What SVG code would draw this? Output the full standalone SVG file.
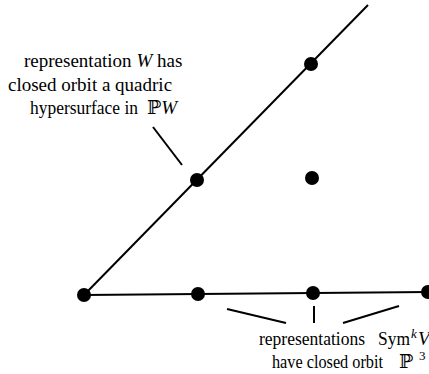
<svg xmlns="http://www.w3.org/2000/svg" width="429" height="374" viewBox="0 0 429 374">
<style>
.ln{stroke:#000;stroke-width:2;fill:none;stroke-linecap:butt}
.dot{fill:#000}
text{font-family:"Liberation Serif","DejaVu Serif",serif;font-size:19px;fill:#000}
.it{font-style:italic}
.sup{font-size:13px}
</style>
<rect width="429" height="374" fill="#fff"/>
<g id="connectors">
<line class="ln" x1="84" y1="295" x2="368" y2="5"/>
<line class="ln" x1="84" y1="295" x2="429" y2="292"/>
<line class="ln" x1="153" y1="127" x2="182" y2="165"/>
<line class="ln" x1="227" y1="309" x2="286" y2="323"/>
<line class="ln" x1="314" y1="306" x2="314" y2="323"/>
<line class="ln" x1="343" y1="323" x2="399" y2="306"/>
</g>
<g id="n1"><circle class="dot" cx="84" cy="295" r="7"/></g>
<g id="n2"><circle class="dot" cx="198" cy="294" r="7"/></g>
<g id="n3"><circle class="dot" cx="313" cy="293" r="7"/></g>
<g id="n4"><circle class="dot" cx="428" cy="292" r="7"/></g>
<g id="n5"><circle class="dot" cx="197" cy="180" r="7"/></g>
<g id="n6"><circle class="dot" cx="311" cy="64" r="7"/></g>
<g id="n7"><circle class="dot" cx="312" cy="178" r="7"/></g>
<g id="label-top">
<text x="24" y="67">representation <tspan class="it">W</tspan> has</text>
<text x="8" y="91">closed orbit a quadric</text>
<text x="30" y="114" textLength="108" lengthAdjust="spacingAndGlyphs">hypersurface in</text>
<text x="147" y="114">ℙ<tspan class="it">W</tspan></text>
</g>
<g id="label-bottom">
<text x="259" y="345" textLength="106" lengthAdjust="spacingAndGlyphs">representations</text>
<text x="378" y="345"><tspan textLength="32" lengthAdjust="spacingAndGlyphs">Sym</tspan><tspan class="it sup" x="411" dy="-7">k</tspan><tspan class="it" x="418" dy="7">V</tspan></text>
<text x="272" y="368" textLength="111" lengthAdjust="spacingAndGlyphs">have closed orbit</text>
<text x="399" y="368">ℙ<tspan class="sup" x="419" dy="-8">3</tspan></text>
</g>
</svg>
